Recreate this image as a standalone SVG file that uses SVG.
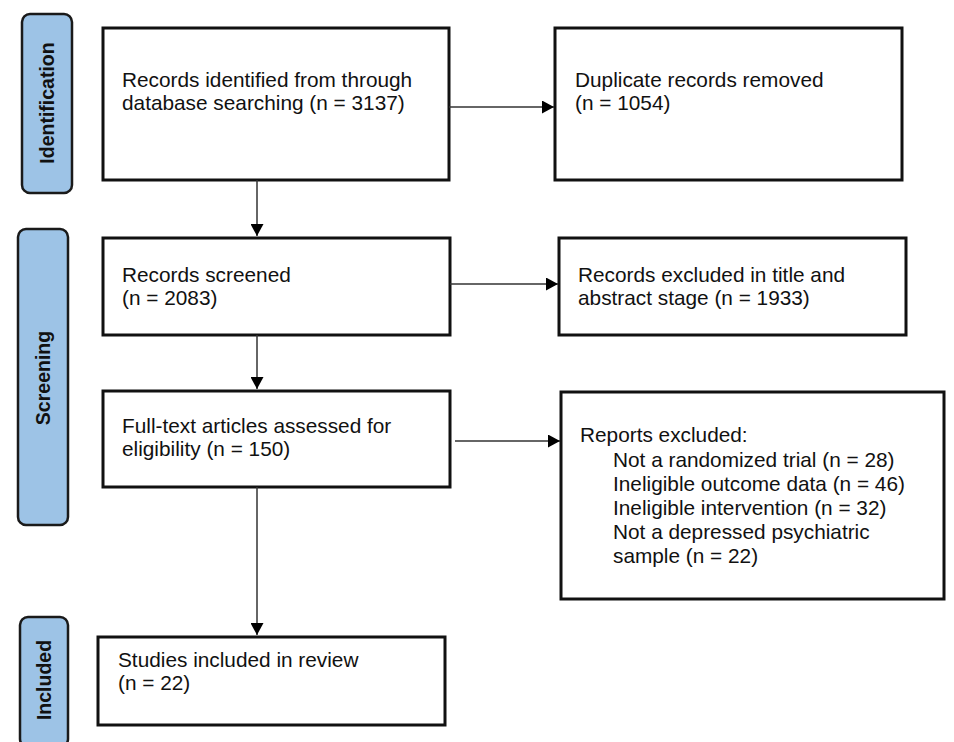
<svg xmlns="http://www.w3.org/2000/svg" width="954" height="742" viewBox="0 0 954 742">
<style>
.box{fill:#fff;stroke:#111;stroke-width:3}
.lab{fill:#9DC3E6;stroke:#1a1a1a;stroke-width:2.5}
.t{font-family:"Liberation Sans",Arial,sans-serif;font-size:20.8px;fill:#111}
.lt{font-family:"Liberation Sans",Arial,sans-serif;font-size:19.5px;font-weight:bold;fill:#111}
.c{stroke:#333;stroke-width:1.5;fill:none;marker-end:url(#ah)}
</style>
<defs>
<marker id="ah" markerWidth="12" markerHeight="13" refX="12" refY="6.5" orient="auto" markerUnits="userSpaceOnUse">
<path d="M0,0 L12,6.5 L0,13 Z" fill="#000"/>
</marker>
</defs>
<rect width="954" height="742" fill="#fff"/>
<g id="label-identification">
<rect class="lab" x="22" y="14" width="50" height="179" rx="8"/>
<text class="lt" transform="translate(54,103) rotate(-90)" text-anchor="middle">Identification</text>
</g>
<g id="label-screening">
<rect class="lab" x="18" y="229" width="50" height="296" rx="8"/>
<text class="lt" transform="translate(50,378) rotate(-90)" text-anchor="middle">Screening</text>
</g>
<g id="label-included">
<rect class="lab" x="20" y="617" width="48" height="130" rx="8"/>
<text class="lt" transform="translate(51,680) rotate(-90)" text-anchor="middle">Included</text>
</g>
<g id="identified">
<rect class="box" x="103" y="28" width="346" height="152"/>
<text class="t" x="122" y="87">Records identified from through</text>
<text class="t" x="122" y="110">database searching (n = 3137)</text>
</g>
<g id="duplicates">
<rect class="box" x="555" y="28" width="347" height="152"/>
<text class="t" x="575" y="87">Duplicate records removed</text>
<text class="t" x="575" y="110">(n = 1054)</text>
</g>
<g id="screened">
<rect class="box" x="103" y="238" width="347" height="97"/>
<text class="t" x="122" y="282">Records screened</text>
<text class="t" x="122" y="305">(n = 2083)</text>
</g>
<g id="excluded-title">
<rect class="box" x="559" y="238" width="347" height="97"/>
<text class="t" x="578" y="282">Records excluded in title and</text>
<text class="t" x="578" y="305">abstract stage (n = 1933)</text>
</g>
<g id="fulltext">
<rect class="box" x="103" y="391" width="347" height="96"/>
<text class="t" x="122" y="433">Full-text articles assessed for</text>
<text class="t" x="122" y="456">eligibility (n = 150)</text>
</g>
<g id="reports-excluded">
<rect class="box" x="561" y="392" width="383" height="207"/>
<text class="t" x="580" y="442">Reports excluded:</text>
<text class="t" x="613" y="467">Not a randomized trial (n = 28)</text>
<text class="t" x="613" y="491">Ineligible outcome data (n = 46)</text>
<text class="t" x="613" y="515">Ineligible intervention (n = 32)</text>
<text class="t" x="613" y="539">Not a depressed psychiatric</text>
<text class="t" x="613" y="563">sample (n = 22)</text>
</g>
<g id="included">
<rect class="box" x="98" y="637" width="347" height="88"/>
<text class="t" x="118" y="667">Studies included in review</text>
<text class="t" x="118" y="690">(n = 22)</text>
</g>
<g id="connectors">
<line class="c" x1="449" y1="107" x2="554" y2="107"/>
<line class="c" x1="257" y1="180" x2="257" y2="236"/>
<line class="c" x1="450" y1="284" x2="558" y2="284"/>
<line class="c" x1="257" y1="335" x2="257" y2="389"/>
<line class="c" x1="455" y1="441" x2="560" y2="441"/>
<line class="c" x1="257" y1="487" x2="257" y2="635"/>
</g>
</svg>
